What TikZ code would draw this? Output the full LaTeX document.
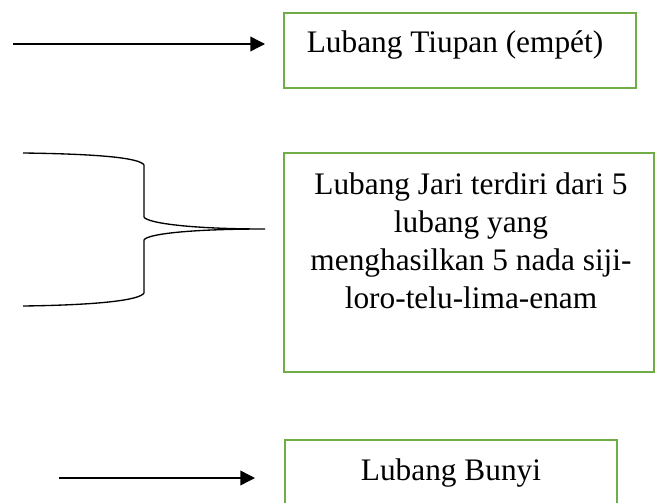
\documentclass[tikz,border=0pt]{standalone}
\usepackage{fontspec}
\setmainfont{Liberation Serif}
\usetikzlibrary{arrows.meta}
\definecolor{boxgreen}{HTML}{70AD47}

\begin{document}
\begin{tikzpicture}[x=0.75pt,y=-0.75pt,
      box/.style={draw=boxgreen,line width=2pt,inner sep=0pt},
      boxtext/.style={anchor=base,inner sep=0pt,font=\fontsize{23.5}{28.7}\selectfont},
      pointer/.style={line width=1.1pt,-{Triangle[length=11pt,width=11pt]}},
      brace/.style={line width=1pt}]
    \useasboundingbox (0,0) rectangle (655,502);
    \clip (0,0) rectangle (655,502);
    \node[box,minimum width=264pt,minimum height=56.25pt] (tiupan) at (460,50.5) {};
    \node[boxtext] (tiupanText) at (455,53) {Lubang Tiupan (empét)};
    \node[box,minimum width=277.5pt,minimum height=164.25pt] (jari) at (469,262.5) {};
    \node[boxtext,align=center,anchor=north] (jariText) at (471,172)
        {Lubang Jari terdiri dari 5\\ lubang yang\\ menghasilkan 5 nada siji-\\ loro-telu-lima-enam};
    \node[box,minimum width=249pt,minimum height=56.25pt] (bunyi) at (451,477.5) {};
    \node[boxtext] (bunyiText) at (451,480) {Lubang Bunyi};
    \coordinate (tiupanTail) at (13,44);
    \coordinate (tiupanHead) at (265,44);
    \draw[pointer] (tiupanTail) -- (tiupanHead);
    \coordinate (bunyiTail) at (59,478);
    \coordinate (bunyiHead) at (255,478);
    \draw[pointer] (bunyiTail) -- (bunyiHead);
    \coordinate (braceTop) at (23,153);
    \coordinate (braceTip) at (265,229);
    \coordinate (braceBottom) at (23,306);
    \draw[brace] (braceTop) .. controls (100,154) and (140,158) .. (144,165)
        -- (144,217) .. controls (147,223) and (190,229) .. (braceTip)
        .. controls (190,229) and (147,234) .. (144,240)
        -- (144,293) .. controls (140,300) and (100,305) .. (braceBottom);
\end{tikzpicture}
\end{document}
